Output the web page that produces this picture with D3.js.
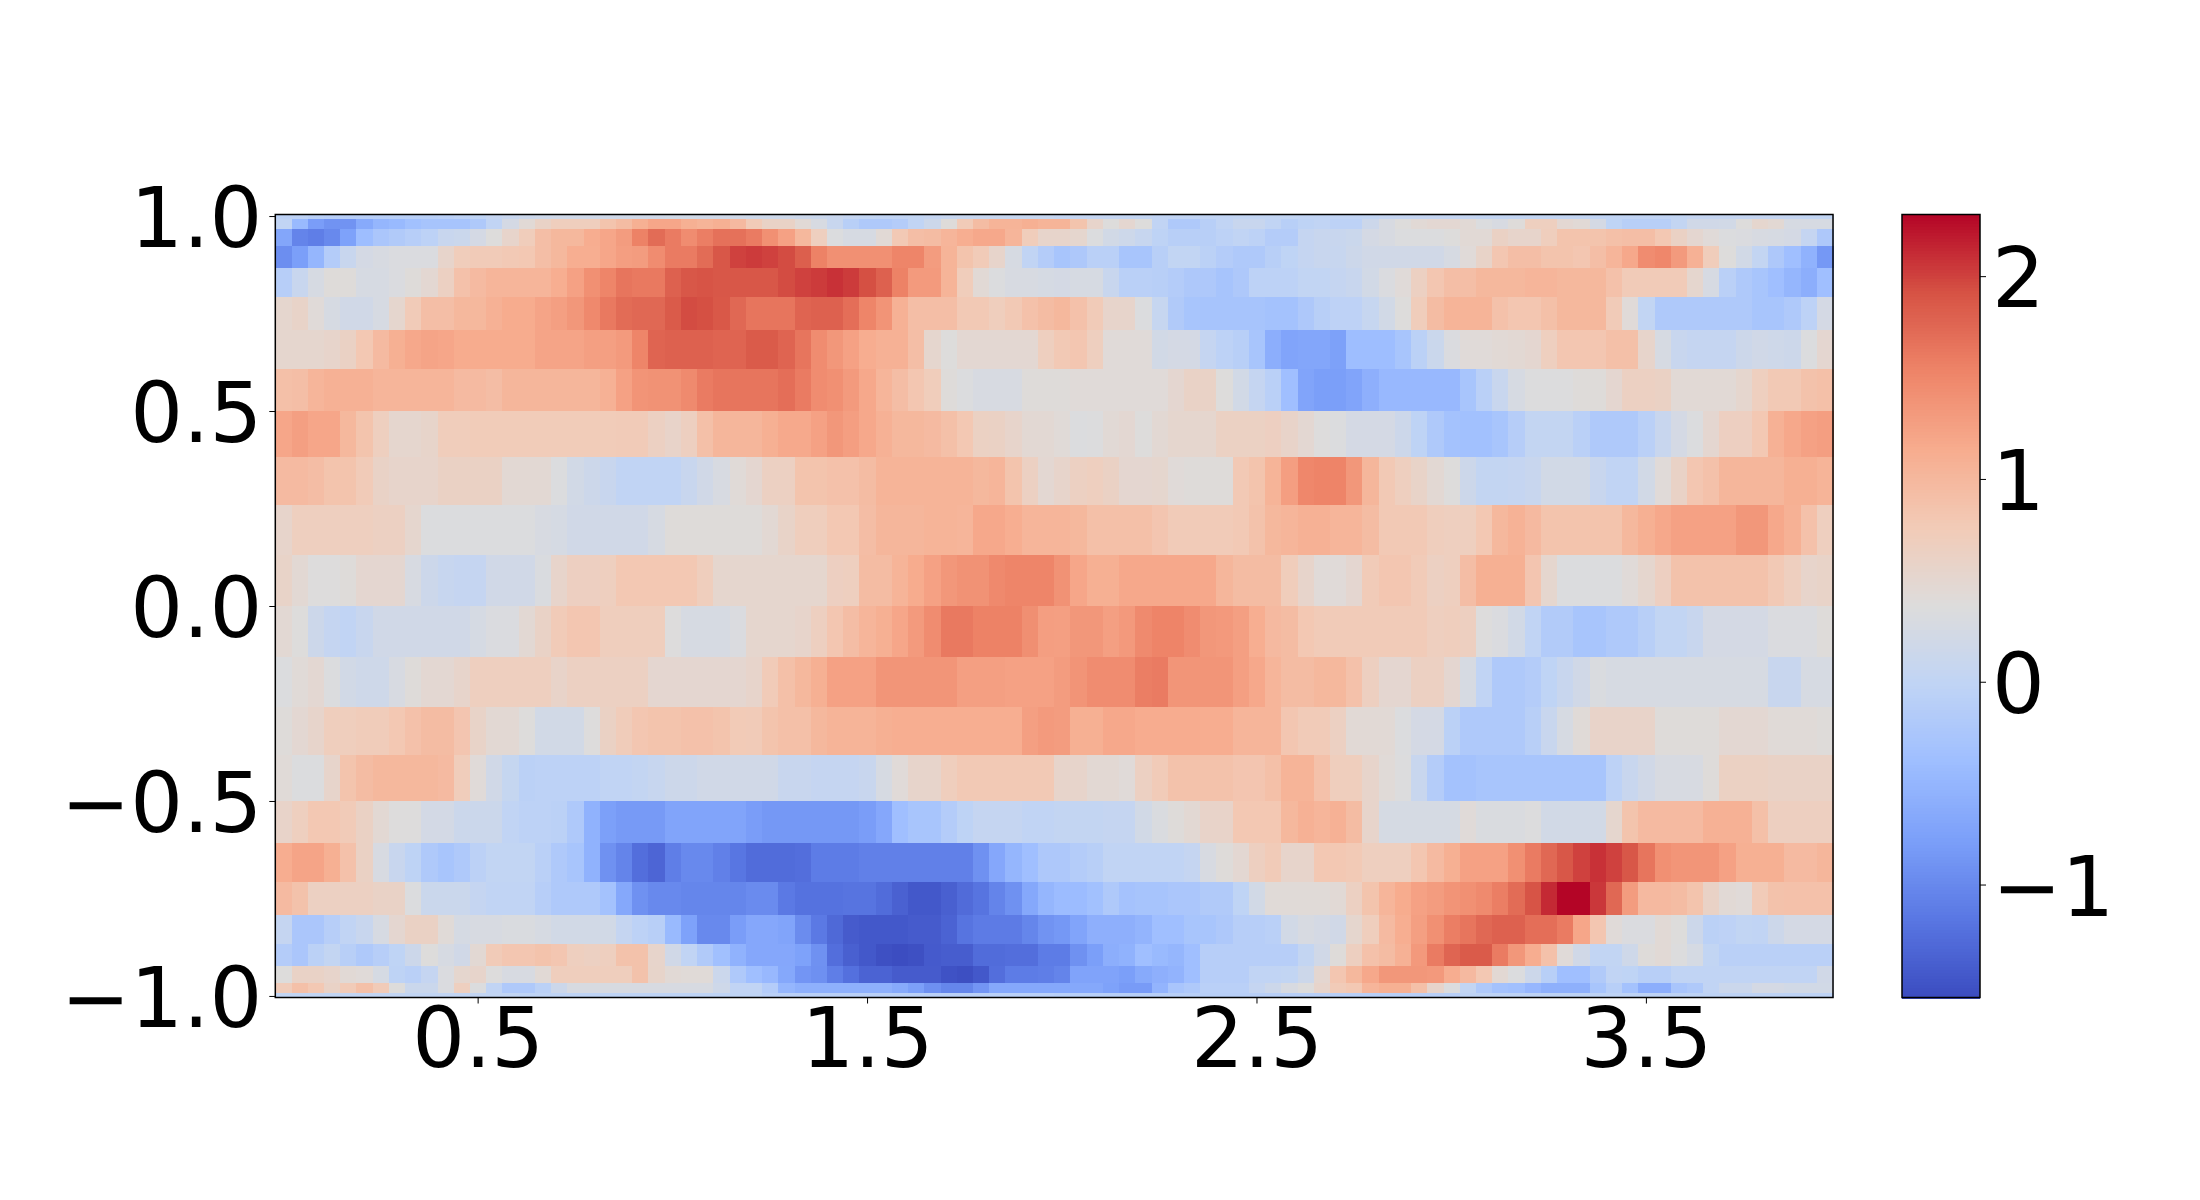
<!DOCTYPE html>
<html>
<head>
<meta charset="utf-8">
<script src="https://cdnjs.cloudflare.com/ajax/libs/d3/7.8.5/d3.min.js"></script>
<style>
  html, body { margin: 0; padding: 0; background: #fff; }
  svg { display: block; }
  .tick text { font-family: "DejaVu Sans", sans-serif; font-size: 83px; fill: #000; }
  .tick line { stroke: #000; stroke-width: 1; }
</style>
</head>
<body>
<svg id="chart" width="2200" height="1200"></svg>
<script>
// rows run top (y = 1) to bottom (y = -1), 96 columns each
const row00 = [-.05,-.05,-.1,-.12,-.12,-.12,-.12,-.1,-.1,-.1,-.08,-.05,
  -.02,.05,.1,.15,.18,.2,.2,.2,.2,.2,.2,.2,
  .22,.22,.2,.2,.2,.18,.18,.18,.15,.12,.1,.05,
  .02,0,0,.02,.05,.08,.1,.1,.1,.08,.08,.08,
  .05,.05,.05,.05,.03,.03,0,0,0,0,0,.02,
  .02,.02,.02,0,0,0,0,.02,.05,.05,.05,.05,
  .05,.05,.03,.03,.03,.03,.03,.03,.03,0,0,0,
  0,0,.02,.05,.05,.05,.05,.05,.05,.05,.02,.02];
const row01 = [0,-.45,-.8,-.9,-.9,-.65,-.5,-.45,-.35,-.3,-.3,-.3,
  -.2,0,.25,.45,.6,.7,.7,.7,.85,.95,1.1,1.2,
  1.2,1.1,1.05,1.1,.98,.75,.6,.6,.45,.3,.1,-.1,
  -.2,-.2,-.15,0,.15,.4,.75,.95,1.05,1.05,1.1,1.05,
  1.05,.85,.55,.38,.5,.38,0,-.2,-.2,-.1,0,.1,
  .1,0,-.1,-.03,0,-.05,-.05,.15,.3,.38,.45,.48,
  .48,.45,.35,.3,.4,.68,.68,.48,.45,.25,-.02,-.1,
  -.1,-.1,.03,.2,.2,.22,.38,.52,.47,.28,.28,.28];
const row02 = [-.7,-1.05,-1.1,-1.0,-.75,-.4,-.25,-.18,-.12,-.05,.1,.12,
  .25,.38,.55,.72,.92,1.0,1.0,1.13,1.2,1.3,1.55,1.72,
  1.6,1.45,1.58,1.68,1.68,1.6,1.42,1.25,1.0,.68,.35,.28,
  .28,.45,.78,.92,.95,1.03,1.12,1.18,1.18,1.03,.72,.55,
  .55,.52,.35,.22,.16,.08,-.03,-.1,-.1,-.1,-.05,0,
  -.05,-.15,-.15,.05,.1,.1,.12,.25,.3,.35,.35,.35,
  .38,.45,.45,.62,.55,.55,.7,.85,.85,.85,.9,.92,
  .92,.8,.62,.5,.42,.35,.33,.3,.28,.25,.05,-.22];
const row03 = [-.95,-.78,-.5,-.15,.1,.25,.3,.33,.33,.33,.55,.72,
  .75,.75,.78,.8,.92,1.0,1.12,1.12,1.2,1.28,1.3,1.45,
  1.6,1.6,1.72,1.88,2.0,2.03,2.0,1.95,1.82,1.55,1.42,1.42,
  1.42,1.42,1.52,1.52,1.3,1.05,.85,.75,.55,.28,0,-.15,
  -.28,-.22,-.08,-.08,-.28,-.28,-.1,.02,.02,-.07,-.15,-.2,
  -.2,-.1,-.02,.05,.1,.08,.15,.2,.2,.2,.2,.2,
  .28,.42,.58,.82,.92,.92,.85,.85,.82,.92,1.03,1.18,
  1.45,1.5,1.32,1.08,.72,.38,.22,.03,-.22,-.38,-.55,-.85];
const row04 = [-.12,.1,.28,.4,.4,.28,.28,.33,.4,.48,.65,.88,
  .97,1.03,1.03,1.03,1.03,1.12,1.25,1.42,1.52,1.65,1.62,1.62,
  1.8,1.88,1.9,1.88,1.88,1.88,1.88,1.95,2.0,2.03,2.08,2.03,
  1.93,1.8,1.55,1.32,1.32,1.05,.72,.45,.35,.3,.3,.27,
  .25,.28,.28,.1,-.08,-.08,-.1,-.15,-.22,-.22,-.3,-.22,
  -.05,-.05,-.05,.02,.02,.05,.1,.22,.33,.42,.65,.82,
  .92,.92,1.0,1.0,1.0,1.03,1.03,1.0,1.0,1.0,.88,.75,
  .75,.75,.75,.52,.28,-.08,-.2,-.28,-.38,-.5,-.6,-.38];
const row05 = [.52,.58,.42,.28,.2,.2,.28,.52,.75,.92,.92,1.0,
  1.0,1.08,1.15,1.15,1.22,1.27,1.35,1.48,1.62,1.72,1.75,1.75,
  1.85,1.95,1.93,1.87,1.75,1.65,1.65,1.65,1.78,1.8,1.8,1.7,
  1.52,1.38,1.08,.92,.92,.92,.78,.78,.7,.78,.88,.95,
  1.0,.88,.75,.55,.55,.35,.07,-.18,-.28,-.3,-.3,-.3,
  -.3,-.33,-.33,-.22,-.1,-.04,-.04,.07,.22,.38,.72,.95,
  1.05,1.05,1.05,.88,.82,.82,.9,1.0,1.0,1.0,.75,.42,
  .02,-.2,-.2,-.2,-.2,-.2,-.2,-.28,-.28,-.2,-.05,.25];
const row06 = [.52,.52,.52,.55,.62,.8,.97,1.1,1.18,1.22,1.2,1.15,
  1.15,1.15,1.15,1.15,1.22,1.22,1.22,1.27,1.27,1.32,1.52,1.78,
  1.8,1.8,1.8,1.78,1.78,1.85,1.85,1.78,1.65,1.45,1.35,1.25,
  1.13,1.08,1.08,.92,.52,.38,.48,.48,.48,.48,.48,.68,
  .78,.82,.68,.42,.42,.42,.22,.25,.25,.05,-.05,-.1,
  -.28,-.6,-.72,-.7,-.7,-.76,-.4,-.4,-.4,-.28,-.07,.12,
  .33,.42,.42,.45,.47,.5,.68,.82,.82,.82,.9,.9,
  .55,.28,.1,.05,.05,.05,.15,.2,.18,.15,.35,.5];
const row07 = [.9,.92,1.03,1.08,1.08,1.08,1.03,1.03,1.03,1.03,1.03,.97,
  .97,.93,1.02,1.02,1.02,1.02,1.02,1.02,1.08,1.25,1.38,1.4,
  1.4,1.47,1.6,1.65,1.65,1.65,1.65,1.7,1.6,1.45,1.42,1.32,
  1.18,1.03,.93,.82,.72,.4,.35,.3,.3,.3,.4,.4,
  .4,.42,.42,.42,.42,.42,.42,.5,.6,.6,.38,.22,
  .05,-.08,-.38,-.72,-.78,-.78,-.72,-.58,-.47,-.47,-.47,-.47,
  -.47,-.28,-.08,.1,.28,.36,.36,.36,.4,.4,.5,.65,
  .65,.62,.45,.45,.45,.45,.52,.68,.78,.78,.87,.9];
const row08 = [1.2,1.27,1.2,1.2,1.0,.85,.68,.52,.52,.56,.72,.72,
  .74,.74,.74,.74,.74,.74,.74,.74,.74,.75,.75,.65,
  .57,.67,.9,1.02,1.02,1.02,1.1,1.17,1.17,1.25,1.35,1.28,
  1.18,1.08,1.0,1.0,.97,.9,.8,.63,.62,.55,.47,.47,
  .43,.35,.36,.45,.48,.38,.47,.52,.52,.52,.63,.63,
  .63,.66,.57,.48,.37,.35,.25,.25,.25,.15,-.03,-.2,
  -.33,-.35,-.35,-.28,-.13,.03,.03,.03,-.08,-.2,-.2,-.2,
  -.08,.1,.25,.35,.5,.66,.66,.8,1.08,1.18,1.25,1.28];
const row09 = [.97,.97,.93,.85,.85,.75,.6,.55,.55,.55,.62,.62,
  .62,.62,.47,.47,.47,.35,.22,.15,.1,0,0,0,
  0,.1,.2,.3,.43,.5,.65,.65,.85,.85,.88,.88,
  .95,1.05,1.05,1.05,1.05,1.05,1.05,1.0,1.03,.85,.65,.48,
  .55,.65,.68,.62,.5,.5,.52,.42,.4,.4,.4,.78,
  .85,1.05,1.28,1.5,1.53,1.53,1.35,1.02,.78,.68,.58,.47,
  .38,.15,.03,.03,.05,.1,.22,.22,.22,.1,0,0,
  .22,.42,.6,.82,.88,1.02,1.02,1.02,1.02,1.1,1.1,1.05];
const row10 = [.55,.68,.68,.68,.68,.68,.65,.65,.52,.35,.35,.35,
  .35,.35,.35,.35,.3,.27,.2,.2,.2,.2,.2,.28,
  .4,.4,.4,.4,.4,.4,.47,.58,.7,.7,.8,.8,
  .93,1.02,1.02,1.02,1.05,1.05,1.03,1.18,1.18,1.12,1.03,1.03,
  1.03,1.0,.9,.9,.9,.9,.83,.75,.75,.75,.75,.78,
  .87,1.0,1.03,1.08,1.08,1.03,1.03,.95,.78,.78,.78,.7,
  .68,.68,.8,1.0,1.07,.98,.85,.85,.85,.85,.85,1.0,
  1.1,1.18,1.25,1.25,1.25,1.25,1.35,1.35,1.18,1.08,.88,.68];
const row11 = [.58,.47,.37,.37,.4,.5,.5,.5,.3,.15,.08,.05,
  .05,.2,.2,.2,.32,.55,.66,.66,.68,.8,.8,.8,
  .8,.8,.7,.52,.52,.52,.52,.52,.52,.52,.66,.68,
  .95,.95,1.05,1.15,1.25,1.35,1.4,1.4,1.48,1.52,1.52,1.52,
  1.4,1.2,1.1,1.1,1.18,1.18,1.18,1.18,1.18,1.18,1.02,.95,
  .95,.95,.72,.55,.42,.42,.5,.75,.82,.82,.75,.65,
  .68,.93,1.1,1.1,1.1,.83,.52,.35,.35,.35,.35,.42,
  .52,.66,.87,.87,.87,.87,.87,.87,.78,.68,.55,.58];
const row12 = [.47,.38,.15,.05,0,.1,.2,.2,.2,.2,.2,.2,
  .27,.33,.33,.47,.6,.75,.82,.82,.7,.7,.7,.7,
  .37,.28,.28,.28,.33,.52,.52,.52,.55,.67,.82,.93,
  1.03,1.1,1.2,1.32,1.45,1.62,1.62,1.55,1.55,1.55,1.43,1.28,
  1.27,1.35,1.35,1.27,1.33,1.47,1.53,1.53,1.45,1.35,1.33,1.27,
  1.12,.98,.95,.8,.75,.75,.75,.75,.75,.75,.75,.68,
  .7,.67,.37,.33,.22,0,-.17,-.17,-.28,-.28,-.2,-.2,
  -.1,.02,.02,.1,.25,.25,.25,.25,.33,.33,.33,.4];
const row13 = [.35,.43,.48,.35,.22,.17,.17,.3,.4,.48,.48,.55,
  .68,.68,.68,.68,.68,.57,.65,.65,.65,.65,.65,.5,
  .5,.5,.5,.5,.5,.55,.75,.9,1.0,1.1,1.25,1.25,
  1.25,1.37,1.37,1.37,1.37,1.37,1.27,1.27,1.27,1.25,1.25,1.25,
  1.3,1.38,1.45,1.45,1.45,1.58,1.6,1.37,1.37,1.37,1.37,1.27,
  1.18,1.03,.95,.95,1.0,1.0,.88,.67,.5,.5,.65,.65,
  .5,.28,0,-.2,-.2,-.15,-.02,.1,.2,.32,.28,.28,
  .28,.28,.28,.28,.28,.28,.28,.28,.1,.1,.28,.28];
const row14 = [.4,.48,.55,.7,.7,.73,.73,.8,.88,.95,.95,.83,
  .58,.47,.47,.38,.22,.22,.22,.37,.62,.73,.82,.85,
  .85,.88,.88,.85,.76,.75,.85,.9,.9,1.0,1.05,1.05,
  1.05,1.1,1.12,1.12,1.12,1.12,1.12,1.12,1.12,1.12,1.27,1.32,
  1.3,1.1,1.1,1.18,1.18,1.14,1.14,1.14,1.14,1.13,1.13,1.03,
  1.03,1.03,.82,.75,.75,.65,.45,.45,.45,.35,.25,.25,
  -.07,-.2,-.2,-.2,-.2,-.1,.1,.28,.43,.57,.57,.57,
  .57,.4,.4,.4,.4,.48,.48,.48,.43,.43,.43,.4];
const row15 = [.43,.35,.35,.55,.85,.95,1.0,1.0,1.0,1.0,.97,.72,
  .42,.2,.06,-.07,-.05,-.05,-.05,-.05,0,0,.03,.08,
  .15,.15,.2,.2,.2,.2,.2,.1,.1,.05,.05,.05,
  .1,.28,.42,.55,.55,.7,.78,.78,.78,.78,.78,.78,
  .55,.55,.47,.47,.42,.65,.75,.87,.87,.87,.87,.83,
  .83,.9,1.05,1.05,.88,.7,.7,.55,.43,.36,.1,-.15,
  -.33,-.33,-.28,-.28,-.28,-.28,-.28,-.28,-.28,-.28,-.05,.1,
  .2,.3,.3,.3,.4,.63,.63,.63,.6,.6,.6,.6];
const row16 = [.57,.68,.8,.8,.75,.62,.47,.37,.37,.24,.24,.14,
  .14,.14,0,-.05,-.05,-.07,-.2,-.55,-.77,-.83,-.83,-.83,
  -.72,-.72,-.72,-.72,-.72,-.8,-.85,-.85,-.85,-.85,-.85,-.85,
  -.8,-.68,-.38,-.28,-.28,-.15,-.03,.05,.05,.05,0,0,
  .03,.03,.03,.05,.05,.22,.32,.4,.47,.57,.57,.8,
  .8,.8,1.0,1.08,1.03,1.08,.95,.55,.27,.27,.27,.27,
  .27,.42,.32,.32,.32,.36,.22,.22,.22,.22,.52,.85,
  .97,.97,.97,.97,1.08,1.08,1.08,.9,.67,.67,.67,.67];
const row17 = [1.13,1.22,1.22,1.1,.88,.62,.3,.1,-.03,-.2,-.28,-.2,
  -.06,.02,.02,.02,-.08,-.2,-.28,-.55,-.92,-1.05,-1.25,-1.33,
  -1.1,-1.0,-1.0,-1.08,-1.18,-1.27,-1.27,-1.27,-1.25,-1.12,-1.12,-1.12,
  -1.08,-1.08,-1.08,-1.08,-1.08,-1.08,-1.08,-.92,-.68,-.5,-.38,-.22,
  -.22,-.15,-.1,0,0,0,0,0,.05,.3,.4,.48,
  .67,.75,.55,.55,.8,.8,.77,.68,.68,.68,.82,.97,
  1.1,1.25,1.25,1.25,1.42,1.6,1.75,1.88,2.0,2.08,2.0,1.88,
  1.65,1.42,1.37,1.37,1.37,1.25,1.1,1.1,1.1,.97,.97,1.02];
const row18 = [.97,.87,.65,.65,.65,.65,.6,.6,.35,.12,.12,.12,
  .05,0,0,0,-.12,-.2,-.2,-.2,-.33,-.67,-.92,-1.0,
  -1.0,-1.03,-1.03,-1.03,-1.03,-.98,-.98,-1.15,-1.22,-1.22,-1.22,-1.2,
  -1.2,-1.27,-1.37,-1.45,-1.45,-1.38,-1.28,-1.2,-1.05,-.92,-.67,-.5,
  -.42,-.42,-.35,-.2,-.32,-.3,-.3,-.25,-.25,-.18,-.18,-.02,
  .22,.43,.43,.43,.43,.45,.65,.85,1.03,1.15,1.25,1.3,
  1.38,1.42,1.47,1.58,1.72,1.9,2.12,2.3,2.3,2.05,1.75,1.3,
  .98,.98,.95,.85,.6,.45,.42,.75,.87,.88,.88,.88];
const row19 = [.05,-.25,-.25,-.12,0,.1,.28,.5,.62,.62,.43,.27,
  .3,.3,.32,.32,.28,.22,.22,.22,.22,.05,-.05,-.1,
  -.45,-.75,-1.0,-1.0,-.8,-.68,-.68,-.72,-.97,-1.15,-1.3,-1.42,
  -1.45,-1.45,-1.45,-1.42,-1.42,-1.35,-1.2,-1.13,-1.13,-1.13,-1.03,-.9,
  -.85,-.72,-.58,-.58,-.58,-.52,-.38,-.38,-.28,-.28,-.22,-.12,
  -.12,-.08,.22,.3,.25,.2,.52,.7,.97,1.12,1.27,1.42,
  1.58,1.65,1.75,1.8,1.8,1.7,1.7,1.6,1.2,.82,.42,.33,
  .33,.45,.38,.15,-.07,-.04,.02,0,.15,.25,.25,.25];
const row20 = [-.15,-.25,-.07,.03,-.1,-.2,-.12,-.02,.15,.38,.28,.2,
  .47,.75,.82,.82,.86,.82,.68,.65,.68,.87,.87,.55,
  .2,0,-.18,-.37,-.55,-.68,-.68,-.68,-.75,-.92,-1.25,-1.38,
  -1.45,-1.52,-1.55,-1.52,-1.43,-1.4,-1.4,-1.27,-1.27,-1.25,-1.25,-1.12,
  -1.12,-.92,-.78,-.6,-.55,-.38,-.45,-.5,-.38,-.12,-.12,-.12,
  -.12,-.12,-.12,.03,.2,.4,.67,.88,.95,1.08,1.33,1.6,
  1.77,1.85,1.85,1.6,1.35,1.13,.88,.42,.2,.02,.02,.18,
  .4,.45,.36,.27,.02,-.08,-.08,-.08,-.08,-.08,-.08,-.08];
const row21 = [.38,.6,.6,.55,.45,.42,.27,-.03,-.08,.05,.33,.52,
  .55,.37,.3,.3,.45,.7,.7,.7,.7,.7,.87,.56,
  .45,.43,.43,.13,-.2,-.38,-.47,-.67,-.88,-.93,-1.1,-1.23,
  -1.35,-1.35,-1.42,-1.42,-1.42,-1.5,-1.53,-1.45,-1.25,-1.12,-1.12,-1.1,
  -1.05,-.73,-.73,-.73,-.78,-.65,-.58,-.53,-.38,-.12,-.12,-.12,
  0,0,.02,.15,.5,.82,1.0,1.18,1.35,1.35,1.35,1.33,
  1.13,.98,.8,.47,.35,.15,-.1,-.38,-.38,-.18,0,-.02,
  -.1,-.1,0,0,0,0,0,0,0,0,0,.2];
const row22 = [.73,.9,.8,.6,.75,.9,.75,.38,.12,.12,.33,.68,
  .35,0,-.2,-.2,-.07,.15,.3,.3,.3,.3,.3,.3,
  .3,.3,.3,.17,0,0,-.15,-.5,-.57,-.57,-.57,-.57,
  -.57,-.57,-.65,-.77,-.93,-1.03,-1.03,-.88,-.67,-.67,-.67,-.67,
  -.67,-.67,-.67,-.75,-.82,-.82,-.52,-.27,-.2,-.08,-.08,-.08,
  .05,.15,.3,.37,.55,.75,.8,1.03,1.1,1.1,.9,.55,
  .35,.02,-.2,-.33,-.37,-.48,-.57,-.57,-.57,-.28,-.1,-.33,
  -.6,-.6,-.27,-.2,0,.13,.13,.25,.25,.22,.22,.22];
const row23 = [.02,.02,.02,.02,.02,.02,.02,.02,.02,.02,.02,.02,
  .02,.02,.02,-.02,-.02,-.02,-.02,-.02,-.02,-.02,-.02,-.02,
  -.02,-.02,-.02,-.02,-.02,-.02,-.08,-.08,-.08,-.08,-.08,-.08,
  -.08,-.08,-.08,-.08,-.08,-.08,-.08,-.08,-.08,-.08,-.08,-.08,
  -.1,-.1,-.1,-.1,-.1,-.1,-.1,-.1,-.1,-.1,-.1,-.1,
  -.1,-.1,-.1,-.1,-.1,-.1,-.1,-.1,-.1,-.1,-.1,-.1,
  -.1,-.03,-.03,-.03,-.03,-.03,-.03,-.03,-.03,-.03,-.03,-.03,
  -.03,-.03,-.03,-.03,-.03,-.03,-.03,-.03,-.03,-.03,-.03,-.03];

const rows = [row00,row01,row02,row03,row04,row05,row06,row07,row08,row09,row10,row11,
  row12,row13,row14,row15,row16,row17,row18,row19,row20,row21,row22,row23];

// the rows get thinner towards both ends of the y axis
const rowEdges = [1.004,.9914,.9659,.9239,.866,.7934,.7071,.6088,.5,.3827,.2588,.1305,0,
  -.1305,-.2588,-.3827,-.5,-.6088,-.7071,-.7934,-.866,-.9239,-.9659,-.9914,-1.004];

const xTickCols = [12, 36, 60, 84];
const xTickLabels = ["0.5", "1.5", "2.5", "3.5"];
const yTicks = [1, .5, 0, -.5, -1];
const cbarTicks = [2, 1, 0, -1];
const vMin = -1.557, vMax = 2.304;

// coolwarm
const coolwarmStops = ["#3b4cc0","#5977e3","#7b9ff9","#9ebeff","#c0d4f5","#dddcdc","#f2cbb7","#f7ac8e","#ee8468","#d65244","#b40426"];
const coolwarm = d3.scaleLinear()
  .domain(d3.range(11).map(i => vMin + (vMax - vMin) * i / 10))
  .range(coolwarmStops)
  .interpolate(d3.interpolateRgb);

const plot = { left: 275.3, right: 1833, top: 214.5, bottom: 997.5 };
const cbar = { left: 1902, right: 1980 };

const svg = d3.select("#chart");

const x = d3.scaleBand().domain(d3.range(96)).range([plot.left, plot.right]);
const y = d3.scaleLinear().domain([1.004, -1.004]).range([plot.top, plot.bottom]);

// heatmap cells
svg.append("g").attr("shape-rendering", "crispEdges")
  .selectAll("g")
  .data(rows)
  .join("g")
  .each(function(row, r) {
    d3.select(this).selectAll("rect")
      .data(row)
      .join("rect")
      .attr("x", (d, c) => x(c))
      .attr("width", x.bandwidth() + 0.5)
      .attr("y", y(rowEdges[r]))
      .attr("height", y(rowEdges[r + 1]) - y(rowEdges[r]) + 0.5)
      .attr("fill", d => coolwarm(d));
  });

svg.append("rect")
  .attr("x", plot.left).attr("y", plot.top)
  .attr("width", plot.right - plot.left).attr("height", plot.bottom - plot.top)
  .attr("fill", "none").attr("stroke", "#000").attr("stroke-width", 1.5);

const xAxis = d3.axisBottom(x)
  .tickValues(xTickCols)
  .tickFormat((d, i) => xTickLabels[i])
  .tickSize(6).tickPadding(5);
svg.append("g").attr("transform", `translate(0,${plot.bottom})`).call(xAxis)
  .call(g => g.select(".domain").remove());

const yAxis = d3.axisLeft(y)
  .tickValues(yTicks)
  .tickFormat(d3.format(".1f"))
  .tickSize(6).tickPadding(7);
svg.append("g").attr("transform", `translate(${plot.left},0)`).call(yAxis)
  .call(g => g.select(".domain").remove())
  .call(g => g.selectAll("text").attr("dy", ".37em"));

// colorbar
const cbarY = d3.scaleLinear().domain([vMax, vMin]).range([plot.top, plot.bottom]);
svg.append("g").attr("shape-rendering", "crispEdges")
  .selectAll("rect")
  .data(d3.range(256))
  .join("rect")
  .attr("x", cbar.left)
  .attr("width", cbar.right - cbar.left)
  .attr("y", i => plot.top + (plot.bottom - plot.top) * i / 256)
  .attr("height", (plot.bottom - plot.top) / 256 + 1)
  .attr("fill", i => coolwarm(vMax - (vMax - vMin) * (i + .5) / 256));

svg.append("rect")
  .attr("x", cbar.left).attr("y", plot.top)
  .attr("width", cbar.right - cbar.left).attr("height", plot.bottom - plot.top)
  .attr("fill", "none").attr("stroke", "#000").attr("stroke-width", 1.5);

const cbarAxis = d3.axisRight(cbarY)
  .tickValues(cbarTicks)
  .tickFormat(d3.format("d"))
  .tickSize(6).tickPadding(6);
svg.append("g").attr("transform", `translate(${cbar.right},0)`).call(cbarAxis)
  .call(g => g.select(".domain").remove())
  .call(g => g.selectAll("text").attr("dy", ".37em"));
</script>
</body>
</html>
